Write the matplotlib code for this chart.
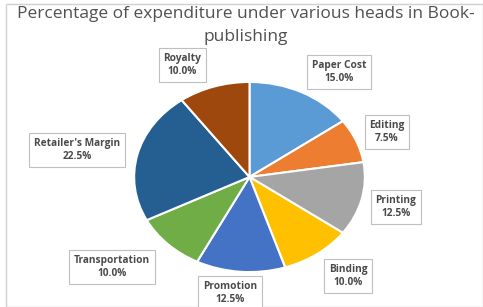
import matplotlib
matplotlib.use("Agg")
import matplotlib.pyplot as plt
from matplotlib.patches import Rectangle

# data
heads = ["Paper Cost", "Editing", "Printing", "Binding", "Promotion",
         "Transportation", "Retailer's Margin", "Royalty"]
shares = [15.0, 7.5, 12.5, 10.0, 12.5, 10.0, 22.5, 10.0]
colors = ["#5B9BD5", "#ED7D31", "#A5A5A5", "#FFC000", "#4472C4",
          "#70AD47", "#255E91", "#9E480E"]

# label box centres in pixels (x from left, y from top)
label_px = [(339, 72), (387, 132), (396, 207), (348, 276), (230, 293),
            (112, 267), (77, 150), (182, 65)]

W, H = 483, 307
fig = plt.figure(figsize=(W / 100, H / 100), dpi=100)
fig.patch.set_facecolor("white")

# chart border
fig.patches.append(Rectangle((6 / W, 0), 1 - 6 / W, 1 - 4 / H, transform=fig.transFigure,
                             fill=False, edgecolor="#D0D0D0", linewidth=1.0))

# pie area (stretched horizontally like the reference)
px0, px1, py0, py1 = 133, 366, 81, 273
ax = fig.add_axes([px0 / W, 1 - py1 / H, (px1 - px0) / W, (py1 - py0) / H])
ax.pie(shares, colors=colors, startangle=90, counterclock=False,
       wedgeprops=dict(edgecolor="white", linewidth=1.5), radius=1.0)
ax.set_aspect("auto")
ax.set_xlim(-1.01, 1.01)
ax.set_ylim(-1.01, 1.01)

for name, val, (x, y) in zip(heads, shares, label_px):
    fig.text(x / W, 1 - y / H, f"{name}\n{val:.1f}%", ha="center", va="center",
             fontsize=7.3, fontweight="bold", color="#4A4A4A", family="Open Sans",
             linespacing=1.25,
             bbox=dict(boxstyle="square,pad=0.45", facecolor="white",
                       edgecolor="#BFBFBF", linewidth=0.8))

tx = 246 / W
fig.text(tx, 1 - 14 / H, "Percentage of expenditure under various heads in Book-",
         ha="center", va="center", fontsize=12.5, color="#505050", family="Open Sans")
fig.text(tx, 1 - 37 / H, "publishing",
         ha="center", va="center", fontsize=12.5, color="#505050", family="Open Sans")

fig.savefig("out.png", dpi=100)
